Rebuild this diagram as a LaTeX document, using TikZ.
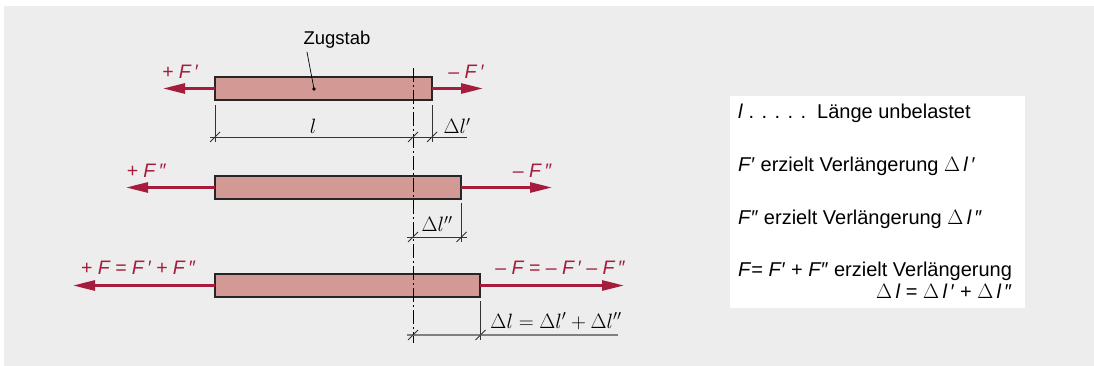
\documentclass[tikz,border=0pt]{standalone}
\usepackage{fontspec}
\setmainfont{Liberation Sans}
\usetikzlibrary{arrows.meta}
\definecolor{kraftrot}{HTML}{A51C3C}
\definecolor{stabrosa}{HTML}{D39A95}
\definecolor{hgrau}{HTML}{EDEDED}
\tikzset{
  stab/.style={draw=black!85, line width=1.8pt, fill=stabrosa, minimum height=23pt,
    anchor=north west, inner sep=0pt, outer sep=0pt},
  kraft/.style={draw=kraftrot, line width=2.6pt, -{Triangle[length=22pt,width=10pt]}},
  kraftlabel/.style={text=kraftrot, font=\fontsize{19.5}{21}\selectfont\itshape},
  mass/.style={draw=black!80, line width=0.8pt},
  masstext/.style={font=\fontsize{20.5}{22}\selectfont},
  legende/.style={font=\fontsize{20}{22}\selectfont, anchor=west, inner sep=0pt},
  achse/.style={draw=black, line width=0.9pt, dash pattern=on 14pt off 3pt on 2pt off 3pt}
}
\newcommand{\schraeg}[2]{\draw[mass] (#1-5,#2+5) -- (#1+5,#2-5);}
\begin{document}
\begin{tikzpicture}[x=1pt, y=-1pt]
\useasboundingbox (0,0) rectangle (1094,366);
\fill[hgrau] (4,6) rectangle (1094,366);

% Staebe
\node[stab, minimum width=217pt] (stab1) at (215,77) {};
\node[stab, minimum width=246pt] (stab2) at (215,176) {};
\node[stab, minimum width=265pt] (stab3) at (215,274) {};

% Kraefte
\coordinate (k1l) at (163,88.5);
\coordinate (k1r) at (483,88.5);
\coordinate (k2l) at (126,187.5);
\coordinate (k2r) at (552,187.5);
\coordinate (k3l) at (73,285.5);
\coordinate (k3r) at (624,285.5);
\draw[kraft] (stab1.west) -- (k1l);
\draw[kraft] (stab1.east) -- (k1r);
\draw[kraft] (stab2.west) -- (k2l);
\draw[kraft] (stab2.east) -- (k2r);
\draw[kraft] (stab3.west) -- (k3l);
\draw[kraft] (stab3.east) -- (k3r);
\node[kraftlabel] (f1l) at (180,72) {+ F\,′};
\node[kraftlabel] (f1r) at (466,72) {– F\,′};
\node[kraftlabel] (f2l) at (146,171) {+ F\,″};
\node[kraftlabel] (f2r) at (532,171) {– F\,″};
\node[kraftlabel] (f3l) at (138,268) {+ F = F\,′ + F\,″};
\node[kraftlabel] (f3r) at (560,268) {– F = – F\,′ – F\,″};

% Zugstab
\node[font=\fontsize{18.5}{20}\selectfont] (zug) at (337,40) {Zugstab};
\coordinate (zugpkt) at (314,89);
\draw[line width=0.7pt] (307,52) -- (zugpkt);
\fill (zugpkt) circle (1.8);

% Achse
\coordinate (achse-o) at (413,68);
\coordinate (achse-u) at (413,343);
\draw[achse] (achse-o) -- (achse-u);

% Masslinie 1
\draw[mass] (215,105) -- (215,142);
\draw[mass] (432,105) -- (432,142);
\draw[mass] (210,137) -- (467,137);
\schraeg{215}{137}
\schraeg{413}{137}
\schraeg{432}{137}
\node[masstext] (l1) at (313,126) {$l$};
\node[masstext] (dl1) at (457,126) {$\Delta l'$};

% Masslinie 2
\draw[mass] (461.5,203) -- (461.5,242);
\draw[mass] (407,237) -- (467,237);
\schraeg{413}{237}
\schraeg{461.5}{237}
\node[masstext] (dl2) at (437,224) {$\Delta l''$};

% Masslinie 3
\draw[mass] (480.5,301) -- (480.5,340);
\draw[draw=black!50, line width=1.2pt] (407,335) -- (618,335);
\schraeg{413}{335}
\schraeg{480.5}{335}
\node[masstext] (dl3) at (556,321) {$\Delta l = \Delta l' + \Delta l''$};

% Legende
\fill[white] (730,96) rectangle (1025,308);
\node[legende] (leg1) at (738,113) {\textit{l} . . . . .\ \ Länge unbelastet};
\node[legende] (leg2) at (738,166) {\textit{F}′ erzielt Verlängerung $\Delta$\,\textit{l}\,′};
\node[legende] (leg3) at (738,219) {\textit{F}″ erzielt Verlängerung $\Delta$\,\textit{l}\,″};
\node[legende] (leg4) at (738,271) {\textit{F}= \textit{F}′ + \textit{F}″ erzielt Verlängerung};
\node[legende, anchor=east] (leg5) at ([yshift=-20pt]leg4.east) {$\Delta$\,\textit{l} = $\Delta$\,\textit{l}\,′ + $\Delta$\,\textit{l}\,″};
\end{tikzpicture}
\end{document}
